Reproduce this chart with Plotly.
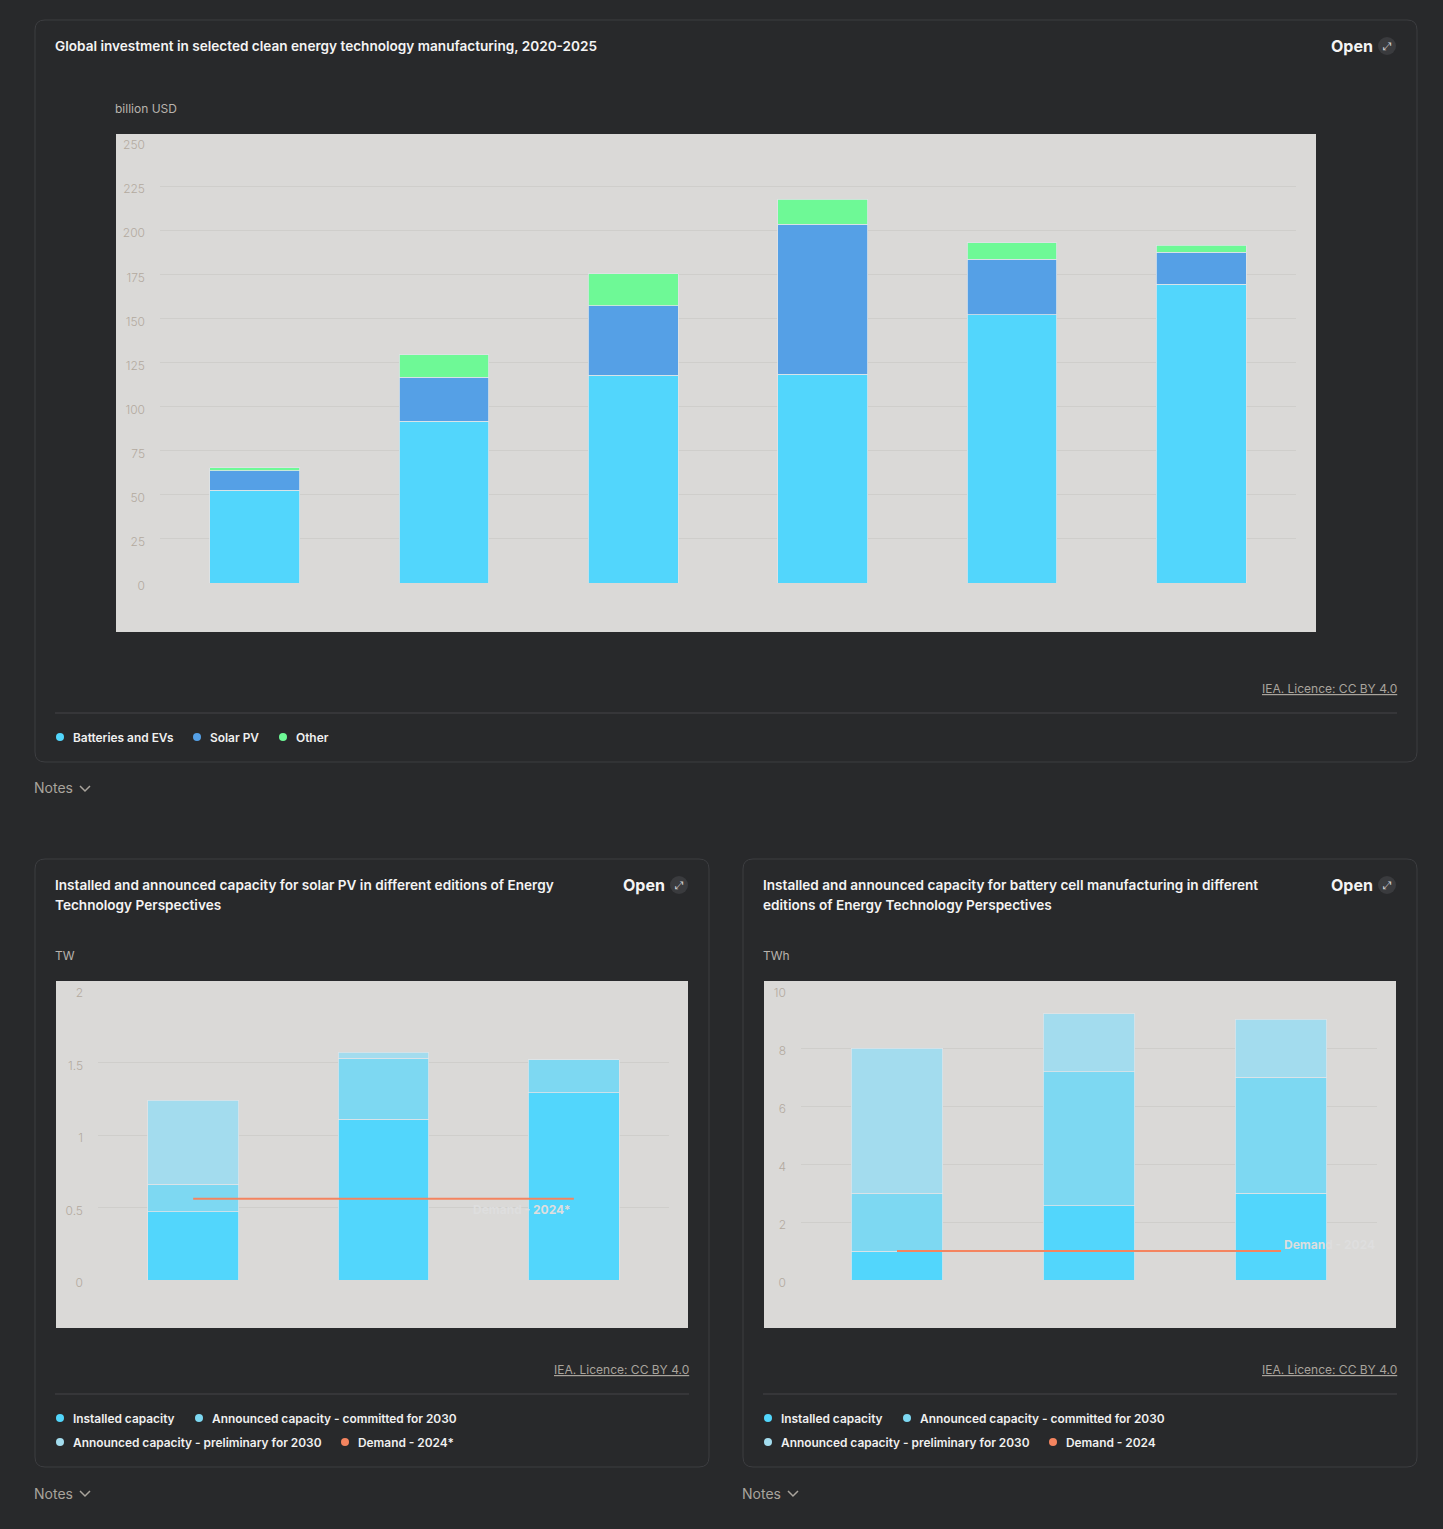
import plotly.graph_objects as go

W, H = 1443, 1529

# ---- data ----
years = ['2020', '2021', '2022', '2023', '2024', '2025']
batteries_evs = [52.6, 91.7, 117.8, 118.4, 152.0, 169.4]
solar_pv      = [11.1, 24.8, 39.5, 84.9, 31.6, 18.2]
other         = [1.7, 12.8, 18.0, 14.2, 9.3, 3.8]

editions = ['ETP-2023', 'ETP-2024', 'ETP-2025']
pv_installed   = [0.47, 1.11, 1.29]
pv_committed   = [0.19, 0.42, 0.23]
pv_preliminary = [0.58, 0.04, 0.0]
pv_demand      = [0.56, 0.56, 0.56]

bat_installed   = [1.0, 2.56, 3.0]
bat_committed   = [2.0, 4.62, 4.0]
bat_preliminary = [5.0, 2.0, 2.0]
bat_demand      = [1.0, 1.0, 1.0]

top_ticks = [0, 25, 50, 75, 100, 125, 150, 175, 200, 225, 250]
pv_ticks  = [0, 0.5, 1, 1.5, 2]
bat_ticks = [0, 2, 4, 6, 8, 10]

# colours
BG = '#28292b'
PLOTBG = '#dad9d7'
C_BAT, C_PV, C_OTH = '#52d6fc', '#55a0e6', '#6ef996'
C_INST, C_COMM, C_PREL, C_DEM = '#52d6fc', '#7dd8f2', '#a3dcee', '#f4845f'
TICK = '#b3aa9f'
FONT = 'Inter'


def px(x):
    return x / W


def py(y):
    return 1 - y / H


def P(x, y):
    return f'{px(x):.5f},{py(y):.5f}'


def rrect(x0, y0, x1, y1, r=10):
    return (f'M{P(x0 + r, y0)} L{P(x1 - r, y0)} Q{P(x1, y0)} {P(x1, y0 + r)} '
            f'L{P(x1, y1 - r)} Q{P(x1, y1)} {P(x1 - r, y1)} L{P(x0 + r, y1)} '
            f'Q{P(x0, y1)} {P(x0, y1 - r)} L{P(x0, y0 + r)} Q{P(x0, y0)} {P(x0 + r, y0)} Z')


shapes = []
annos = []


def txt(x, y, s, size=12, color='#ececec', weight=400, xanchor='left', **kw):
    # annotations carry ~2px of padding, compensate it
    x = x - 2 if xanchor == 'left' else (x + 2 if xanchor == 'right' else x)
    annos.append(dict(x=px(x), y=py(y), xref='paper', yref='paper', text=s,
                      showarrow=False, xanchor=xanchor, yanchor='middle',
                      font=dict(family=FONT, size=size, color=color, weight=weight), **kw))


def dot(x, y, color, r=4):
    shapes.append(dict(type='circle', xref='paper', yref='paper',
                       x0=px(x - r), x1=px(x + r), y0=py(y + r), y1=py(y - r),
                       fillcolor=color, line=dict(width=0)))


def hline(x0, x1, y, color='#444548'):
    shapes.append(dict(type='line', xref='paper', yref='paper',
                       x0=px(x0), x1=px(x1), y0=py(y), y1=py(y),
                       line=dict(color=color, width=1)))


def open_button(x_right, y):
    txt(x_right, y, 'Open', size=16, color='#f4f4f4', weight=700, xanchor='right')
    cx = x_right + 14
    dot(cx, y, '#3a3b3e', r=9)
    txt(cx, y, '⤢', size=11, color='#d0d0d0', xanchor='center')


def notes(x, y):
    txt(x, y, 'Notes', size=14, color='#a9a49d')
    shapes.append(dict(type='path', xref='paper', yref='paper',
                       path=f'M{P(x + 46, y - 2)} L{P(x + 51, y + 3)} L{P(x + 56, y - 2)}',
                       line=dict(color='#a9a49d', width=1.5)))


def legend(items, rows):
    for (name, color), (x, y) in zip(items, rows):
        dot(x, y, color)
        txt(x + 13, y, name, size=11.9, color='#f0f0f0', weight=600)


# ---- cards ----
for box in [(35, 20, 1417, 762), (35, 859, 709, 1467), (743, 859, 1417, 1467)]:
    shapes.append(dict(type='path', xref='paper', yref='paper', path=rrect(*box),
                       line=dict(color='#3d3e41', width=1), fillcolor=BG, layer='below'))

# grey plot panels
for x0, y0, x1, y1 in [(116, 134, 1316, 632), (56, 981, 688, 1328), (764, 981, 1396, 1328)]:
    shapes.append(dict(type='rect', xref='paper', yref='paper', x0=px(x0), x1=px(x1),
                       y0=py(y1), y1=py(y0), fillcolor=PLOTBG, line=dict(width=0), layer='below'))

# ---- texts for card 1 ----
txt(55, 46, 'Global investment in selected clean energy technology manufacturing, 2020-2025',
    size=13.6, color='#f4f4f4', weight=600)
open_button(1373, 46)
txt(115, 108, 'billion USD', size=12, color='#b8b3ad')
txt(1397, 688, '<u>IEA. Licence: CC BY 4.0</u>', size=12, color='#a9a49d', xanchor='right')
hline(55, 1397, 713)
legend([('Batteries and EVs', C_BAT), ('Solar PV', C_PV), ('Other', C_OTH)],
       [(60, 737), (197, 737), (283, 737)])
notes(34, 788)

# ---- texts for card 2 ----
txt(55, 885, 'Installed and announced capacity for solar PV in different editions of Energy',
    size=13.6, color='#f4f4f4', weight=600)
txt(55, 905, 'Technology Perspectives', size=13.6, color='#f4f4f4', weight=600)
open_button(665, 885)
txt(55, 955, 'TW', size=12, color='#b8b3ad')
txt(689, 1369, '<u>IEA. Licence: CC BY 4.0</u>', size=12, color='#a9a49d', xanchor='right')
hline(55, 689, 1394)
cap_items = [('Installed capacity', C_INST), ('Announced capacity - committed for 2030', C_COMM),
             ('Announced capacity - preliminary for 2030', C_PREL)]
legend(cap_items + [('Demand - 2024*', C_DEM)],
       [(60, 1418), (199, 1418), (60, 1442), (345, 1442)])
notes(34, 1493)

# ---- texts for card 3 ----
txt(763, 885, 'Installed and announced capacity for battery cell manufacturing in different',
    size=13.6, color='#f4f4f4', weight=600)
txt(763, 905, 'editions of Energy Technology Perspectives', size=13.6, color='#f4f4f4', weight=600)
open_button(1373, 885)
txt(763, 955, 'TWh', size=12, color='#b8b3ad')
txt(1397, 1369, '<u>IEA. Licence: CC BY 4.0</u>', size=12, color='#a9a49d', xanchor='right')
hline(763, 1397, 1394)
legend(cap_items + [('Demand - 2024', C_DEM)],
       [(768, 1418), (907, 1418), (768, 1442), (1053, 1442)])
notes(742, 1493)

# ---- traces ----
fig = go.Figure()
edge = dict(color='#dde4e7', width=0.8)

for name, vals, col in [('Batteries and EVs', batteries_evs, C_BAT),
                        ('Solar PV', solar_pv, C_PV), ('Other', other, C_OTH)]:
    fig.add_trace(go.Bar(x=years, y=vals, name=name, marker=dict(color=col, line=edge),
                         width=0.475, xaxis='x', yaxis='y'))

for ax, inst, comm, prel, dem in [('2', pv_installed, pv_committed, pv_preliminary, pv_demand),
                                  ('3', bat_installed, bat_committed, bat_preliminary, bat_demand)]:
    for (name, col), vals in zip(cap_items, [inst, comm, prel]):
        fig.add_trace(go.Bar(x=editions, y=vals, name=name, marker=dict(color=col, line=edge),
                             width=0.478, xaxis='x' + ax, yaxis='y' + ax))
    fig.add_trace(go.Scatter(x=editions, y=dem, mode='lines', name='Demand',
                             line=dict(color=C_DEM, width=2), xaxis='x' + ax, yaxis='y' + ax))

# demand labels (light text, nearly invisible on the grey panel)
annos.append(dict(x=editions[-1], y=pv_demand[-1], xref='x2', yref='y2', text='Demand - 2024*',
                  showarrow=False, xanchor='right', yanchor='middle', xshift=-1, yshift=-11,
                  font=dict(family=FONT, size=12, color='#dedede', weight=700)))
annos.append(dict(x=editions[-1], y=bat_demand[-1], xref='x3', yref='y3', text='Demand - 2024',
                  showarrow=False, xanchor='left', yanchor='middle', xshift=1, yshift=7,
                  font=dict(family=FONT, size=12, color='#dedede', weight=700)))


def yaxis(dom, rng, ticks):
    return dict(domain=dom, range=rng, tickvals=ticks, showgrid=True, gridcolor='#cfcecb',
                gridwidth=1, zeroline=False, showline=False, ticks='', ticklabelstandoff=14,
                ticklabelshift=3, automargin=False,
                tickfont=dict(family=FONT, size=12, color=TICK, weight=300), fixedrange=True)


def xaxis(dom, n):
    return dict(domain=dom, range=[-0.5, n - 0.5], showticklabels=False, showgrid=False,
                zeroline=False, showline=False, ticks='', fixedrange=True, automargin=False)


fig.update_layout(
    width=W, height=H, margin=dict(l=0, r=0, t=0, b=0, pad=0, autoexpand=False),
    paper_bgcolor=BG, plot_bgcolor='rgba(0,0,0,0)',
    barmode='stack', showlegend=False,
    font=dict(family=FONT),
    xaxis=xaxis([px(160), px(1296)], len(years)),
    yaxis=yaxis([py(583), py(142)], [0, 250], top_ticks),
    xaxis2=dict(xaxis([px(98), px(669)], len(editions)), anchor='y2'),
    yaxis2=dict(yaxis([py(1280), py(990)], [0, 2], pv_ticks), anchor='x2'),
    xaxis3=dict(xaxis([px(801), px(1377)], len(editions)), anchor='y3'),
    yaxis3=dict(yaxis([py(1280), py(990)], [0, 10], bat_ticks), anchor='x3'),
    shapes=shapes, annotations=annos,
)

fig.write_html('out.html', config={'displayModeBar': False},
               post_script="document.body.style.margin='0';"
                           "document.body.style.background='#28292b';")
